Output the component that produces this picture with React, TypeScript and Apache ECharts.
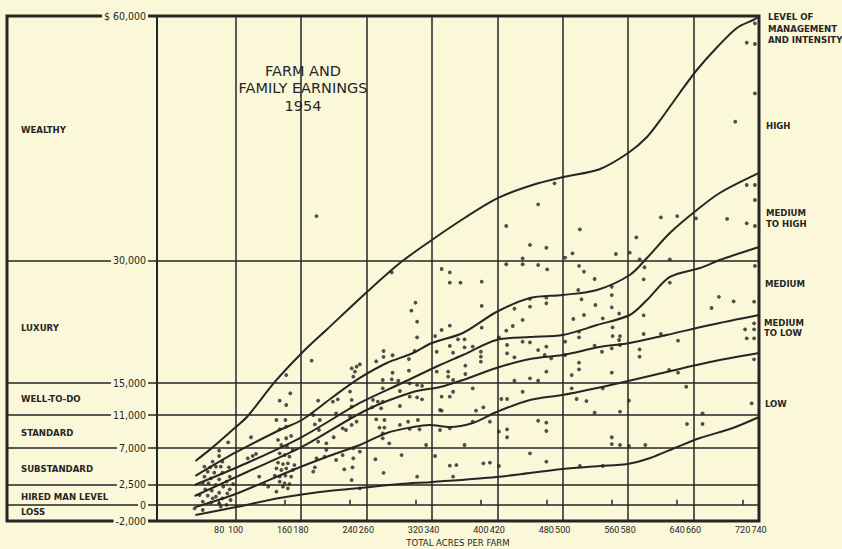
import React, { useEffect, useRef } from 'react';
import * as echarts from 'echarts';

const BG = '#FAF8D8';
const INK = '#262626';
const FONT = '"DejaVu Sans Condensed", Roboto, "DejaVu Sans", sans-serif';
const NARROW = 'Roboto, "DejaVu Sans Condensed", sans-serif';
const TITLE_FONT = '"DejaVu Sans", Roboto, sans-serif';

// axis values
const yLevels = [-2000, 0, 2500, 7000, 11000, 15000, 30000, 60000];
const yLines = [30000, 15000, 11000, 7000, 2500, 0];
const xLabelValues = [80, 100, 160, 180, 240, 260, 320, 340, 400, 420, 480, 500, 560, 580, 640, 660, 720, 740];
const xTickValues = [80, 160, 240, 320, 400, 480, 560, 640, 720];
const xGridValues = [100, 180, 260, 340, 420, 500, 580, 660];

// income bands (left side)
const bandNames = ['WEALTHY', 'LUXURY', 'WELL-TO-DO', 'STANDARD', 'SUBSTANDARD', 'HIRED MAN LEVEL', 'LOSS'];
const bandTops = [60000, 30000, 15000, 11000, 7000, 2500, 0];
const bandBottoms = [30000, 15000, 11000, 7000, 2500, 0, -2000];
const bandOffsets = [-9, 6, 0, 1, 2, 2, -1];

// management level boundary curves [acres, dollars]
const curveHigh = [[51, 5370], [72, 7040], [100, 9500], [115, 10890], [148, 15070], [181, 18630], [211, 21450], [262, 26240], [301, 29680], [340, 32500], [380, 35200], [421, 37660], [463, 39250], [501, 40230], [545, 41190], [580, 43180], [603, 45150], [622, 47600], [643, 50550], [664, 53370], [689, 56190], [713, 58530], [733, 59510], [740, 59880]];
const curveMediumHigh = [[51, 3530], [99, 6350], [154, 9170], [181, 10400], [219, 13230], [252, 15560], [285, 17400], [317, 18630], [340, 19850], [378, 21080], [419, 23660], [460, 25380], [500, 25750], [542, 26360], [582, 28200], [603, 30290], [631, 33360], [664, 36180], [692, 38270], [740, 40730]];
const curveMedium = [[50, 2420], [114, 5120], [181, 8310], [252, 12490], [301, 14820], [350, 17150], [378, 18380], [419, 20220], [460, 20590], [500, 20840], [542, 22060], [582, 23290], [603, 25130], [631, 27960], [668, 29060], [692, 30040], [740, 31640]];
const curveMediumLow = [[50, 1070], [114, 4020], [181, 7090], [260, 11630], [317, 13840], [350, 14450], [378, 15310], [419, 16790], [460, 17890], [500, 18380], [545, 19360], [582, 19850], [627, 20840], [680, 22060], [740, 23290]];
const curveLow = [[51, -280], [100, 1320], [170, 4260], [211, 5860], [252, 7330], [285, 8810], [317, 9540], [337, 9790], [362, 9540], [390, 10030], [419, 11380], [460, 12860], [500, 13470], [542, 14330], [580, 15190], [627, 16290], [680, 17520], [740, 18630]];
const curveBottom = [[51, -1260], [101, -280], [154, 830], [203, 1560], [252, 2050], [301, 2540], [341, 2790], [419, 3400], [500, 4390], [545, 4750], [579, 5000], [607, 5740], [640, 7090], [668, 8190], [708, 9420], [740, 10770]];

// individual farms [acres, dollars]
const farms80 = [[80, 6630], [91, 7660], [80, 5980], [72, 5280], [84, 5280], [62, 4670], [69, 4590], [76, 4670], [82, 4670], [92, 4590], [66, 4050], [74, 3930], [84, 3930], [93, 3440], [62, 3440], [70, 3240], [80, 3120], [89, 2830], [97, 2540], [60, 2670], [67, 2630], [76, 2420], [85, 2210], [93, 1890], [63, 1890], [71, 1720], [80, 1470], [90, 1400], [66, 1110], [76, 980], [84, 780], [94, 580], [60, 370], [70, 250], [80, 170], [89, -30], [82, -240], [50, -440], [60, -650], [72, 780], [56, 1190]];
const farms160 = [[119, 8280], [115, 5700], [121, 5980], [125, 6230], [129, 3440], [135, 2540], [140, 2210], [150, 10400], [161, 10400], [154, 9260], [162, 9580], [152, 7950], [162, 8160], [168, 8440], [156, 7330], [163, 7120], [170, 6720], [154, 6310], [160, 6100], [166, 5900], [152, 5160], [158, 4990], [164, 5080], [172, 4870], [150, 4460], [156, 4260], [162, 4460], [170, 4260], [148, 3560], [154, 3440], [161, 3560], [168, 3440], [154, 2830], [160, 2630], [166, 2540], [158, 2210], [164, 2010], [150, 1600], [154, 12770], [162, 12240], [167, 13680], [162, 15920], [193, 17680], [199, 35440]];
const farms240 = [[201, 12770], [219, 12650], [225, 12940], [195, 11010], [203, 10400], [197, 9870], [202, 9170], [201, 7740], [211, 7540], [220, 8280], [211, 6720], [223, 5490], [199, 5700], [209, 5900], [195, 4050], [197, 4590], [231, 6100], [235, 9170], [231, 9380], [242, 9790], [248, 10190], [240, 10800], [240, 13890], [242, 12860], [242, 12030], [244, 15720], [246, 16330], [248, 16950], [252, 17240], [242, 16750], [244, 6920], [244, 5700], [233, 4350], [243, 4590], [242, 3030], [252, 6510], [252, 2010], [223, 11220]];
const farms320 = [[272, 17610], [281, 18140], [292, 18350], [281, 18870], [322, 20550], [319, 18870], [312, 17890], [312, 16450], [292, 16200], [280, 15310], [291, 15400], [299, 15220], [280, 14290], [301, 13960], [313, 14900], [322, 14700], [313, 13260], [328, 14580], [322, 13180], [328, 12940], [268, 12860], [274, 12650], [280, 12650], [267, 11960], [278, 11840], [301, 12120], [272, 10480], [282, 10400], [276, 9470], [282, 9470], [311, 10190], [323, 10400], [313, 9300], [325, 9260], [280, 8760], [288, 7540], [280, 8150], [301, 9790], [333, 7330], [303, 6100], [271, 5580], [281, 3900], [322, 3440], [350, 11630], [291, 28530], [320, 24800], [315, 23820], [322, 22470]];
const farms480 = [[470, 36880], [431, 34220], [460, 31890], [480, 31550], [521, 33810], [512, 30860], [565, 30780], [451, 30250], [431, 29520], [451, 29520], [470, 29430], [481, 28900], [503, 30330], [520, 29310], [526, 28610], [539, 27710], [352, 28940], [362, 28530], [362, 27260], [375, 27260], [401, 27380], [401, 24400], [401, 21730], [352, 21450], [344, 20710], [362, 21980], [372, 20310], [380, 20310], [390, 19400], [362, 19490], [380, 19320], [346, 18780], [366, 18660], [400, 18780], [400, 18170], [400, 17560], [381, 17070], [381, 16050], [360, 16330], [360, 15720], [366, 15310], [346, 16330], [390, 14290], [352, 13260], [362, 13260], [366, 13870], [352, 11540], [394, 11540], [403, 11960], [390, 10190], [411, 10190], [350, 9170], [362, 9380], [380, 7330], [344, 5980], [362, 4790], [370, 4870], [403, 5080], [411, 5160], [366, 3440], [422, 20550], [431, 21360], [439, 21940], [451, 22680], [441, 24060], [460, 24310], [460, 25260], [480, 25420], [480, 24730], [432, 19610], [432, 18590], [441, 18100], [451, 20010], [460, 19940], [470, 18990], [480, 19400], [478, 18380], [486, 17970], [480, 16330], [460, 15520], [470, 15220], [441, 15220], [451, 13870], [425, 12980], [432, 12980], [422, 8960], [432, 9260], [432, 8280], [470, 10310], [480, 10070], [480, 9050], [460, 6310], [480, 5280], [422, 4750], [503, 20010], [503, 18380], [513, 22800], [520, 21240], [520, 20550], [520, 17440], [520, 16620], [511, 15920], [511, 14290], [517, 12980], [529, 12730], [526, 23290], [523, 25220], [519, 26360], [540, 24520], [549, 22880], [560, 26760], [560, 25740], [560, 24230], [561, 21780], [561, 20710], [570, 20710], [569, 20220], [570, 19610], [560, 19200], [548, 18780], [539, 19520], [560, 16210], [549, 14290], [570, 11420], [539, 11300], [560, 8280], [560, 7450], [570, 7330], [549, 4750], [521, 4750], [490, 39460]];
const farms660 = [[590, 32830], [620, 35280], [640, 35440], [663, 35160], [701, 35080], [725, 34550], [735, 34220], [735, 37410], [725, 39250], [735, 39250], [582, 30940], [594, 30130], [631, 30130], [600, 29150], [599, 27670], [631, 27260], [735, 29310], [569, 23470], [599, 23250], [691, 25520], [709, 24960], [682, 24150], [734, 24930], [599, 20960], [620, 20960], [641, 20140], [723, 21530], [734, 22270], [734, 21530], [725, 20430], [734, 20430], [594, 19080], [594, 18170], [630, 16540], [641, 16210], [734, 17850], [651, 14480], [735, 59100], [725, 56720], [735, 56560], [735, 50510], [711, 47020], [731, 12450], [581, 12770], [652, 9910], [671, 9910], [671, 11220], [581, 7210], [601, 7330]];

const levelLabels = [
  { text: 'LEVEL OF\nMANAGEMENT\nAND INTENSITY', x: 768, y: 11, lh: 11.5 },
  { text: 'HIGH', x: 766, y: 120, lh: 11 },
  { text: 'MEDIUM\nTO HIGH', x: 766, y: 207, lh: 11 },
  { text: 'MEDIUM', x: 765, y: 278, lh: 11 },
  { text: 'MEDIUM\nTO LOW', x: 764, y: 317, lh: 10.5 },
  { text: 'LOW', x: 765, y: 398, lh: 11 },
];

function fmtMoney(v: number): string {
  const s = Math.abs(v).toString().replace(/\B(?=(\d{3})+(?!\d))/g, ',');
  const r = (v < 0 ? '-' : '') + s;
  return v === 60000 ? '$ ' + r : r;
}

export default function App() {
  const ref = useRef<HTMLDivElement>(null);
  useEffect(() => {
    if (!ref.current) return;
    const chart = echarts.init(ref.current, undefined, { renderer: 'svg' });
    const curves = [curveHigh, curveMediumHigh, curveMedium, curveMediumLow, curveLow, curveBottom];
    const farms = [...farms80, ...farms160, ...farms240, ...farms320, ...farms480, ...farms660];
    const option: any = {
      animation: false,
      backgroundColor: BG,
      textStyle: { fontFamily: FONT },
      grid: [
        { left: 157, right: 83, top: 16, bottom: 28, containLabel: false, outerBoundsMode: 'none' },
        { left: 7, right: 83, top: 16, bottom: 28, containLabel: false, outerBoundsMode: 'none', show: true, borderColor: INK, borderWidth: 3, backgroundColor: 'transparent' },
      ],
      xAxis: [
        {
          gridIndex: 0, type: 'value', min: 4, max: 740,
          axisLine: { show: false },
          splitLine: { show: false },
          axisTick: { show: true, inside: true, length: 5, customValues: xTickValues, lineStyle: { color: INK, width: 1.5 } },
          axisLabel: { customValues: xLabelValues, showMaxLabel: true, showMinLabel: true, hideOverlap: false, margin: 4, fontSize: 9, color: INK, fontFamily: NARROW },
          name: 'TOTAL ACRES PER FARM', nameLocation: 'middle', nameGap: 16, nameMoveOverlap: false,
          nameTextStyle: { fontSize: 9.5, color: INK, fontFamily: FONT },
        },
        { gridIndex: 1, type: 'value', min: 0, max: 1, show: false },
      ],
      yAxis: [
        {
          gridIndex: 0, type: 'value', min: -2000, max: 60000, z: 10,
          axisLine: { show: true, lineStyle: { color: INK, width: 2 } },
          axisTick: { show: false },
          splitLine: { show: false },
          axisLabel: {
            customValues: yLevels, showMaxLabel: true, showMinLabel: true, formatter: (v: number) => fmtMoney(v), margin: 9,
            backgroundColor: BG, padding: [1, 2], fontSize: 10.5, color: INK, fontFamily: FONT,
          },
        },
        { gridIndex: 1, type: 'value', min: -2000, max: 60000, show: false },
      ],
      series: [
        {
          type: 'line', xAxisIndex: 1, yAxisIndex: 1, data: [[0, -5000]], showSymbol: false, silent: true,
          lineStyle: { opacity: 0 },
          markLine: {
            silent: true, symbol: 'none', label: { show: false },
            lineStyle: { color: INK, width: 1.5, type: 'solid' },
            data: yLines.map((v) => ({ yAxis: v })),
          },
          markArea: {
            silent: true, itemStyle: { color: 'rgba(0,0,0,0)' },
            label: { show: true, position: 'insideLeft', color: INK, fontSize: 9.5, fontWeight: 'bold', fontFamily: FONT },
            data: bandNames.map((n, i) => [
              { yAxis: bandTops[i], name: n, label: { offset: [9, bandOffsets[i]] } },
              { yAxis: bandBottoms[i] },
            ]),
          },
        },
        {
          type: 'line', xAxisIndex: 0, yAxisIndex: 0, data: [[0, -5000]], showSymbol: false, silent: true,
          lineStyle: { opacity: 0 },
          markLine: {
            silent: true, symbol: 'none', label: { show: false },
            lineStyle: { color: INK, width: 1.5, type: 'solid' },
            data: xGridValues.map((v) => ({ xAxis: v })),
          },
        },
        ...curves.map((c) => ({
          type: 'line', xAxisIndex: 0, yAxisIndex: 0, data: c, smooth: 0.3, showSymbol: false, symbol: 'none',
          lineStyle: { color: INK, width: 2 }, silent: true, z: 3,
        })),
        {
          type: 'scatter', xAxisIndex: 0, yAxisIndex: 0, data: farms, symbolSize: 3.8,
          itemStyle: { color: INK }, silent: true, z: 4,
        },
      ],
      graphic: [
        {
          type: 'text', x: 303, y: 62, z: 20,
          style: { text: 'FARM AND\nFAMILY EARNINGS\n1954', align: 'center', verticalAlign: 'top', font: '14.5px ' + TITLE_FONT, lineHeight: 17.5, fill: INK },
        },
        ...levelLabels.map((l) => ({
          type: 'text', x: l.x, y: l.y, z: 20,
          style: { text: l.text, align: 'left', verticalAlign: 'top', font: 'bold 9.5px ' + FONT, lineHeight: l.lh, fill: INK },
        })),
      ],
    };
    chart.setOption(option);
    return () => chart.dispose();
  }, []);
  return <div ref={ref} style={{ position: 'fixed', left: 0, top: 0, width: 842, height: 549 }} />;
}
